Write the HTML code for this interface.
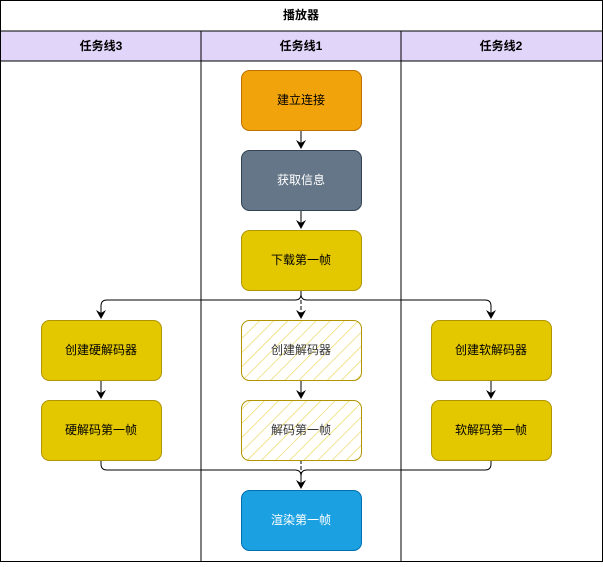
<!DOCTYPE html>
<html><head><meta charset="utf-8"><style>
body{margin:0;background:#fff;}
svg text{font-family:"Liberation Sans","Noto Sans CJK SC",sans-serif;font-size:12px;text-anchor:middle;dominant-baseline:central;}
</style></head><body>
<svg width="603" height="562" viewBox="0 0 603 562" xmlns="http://www.w3.org/2000/svg">
<defs>
<pattern id="h" patternUnits="userSpaceOnUse" width="10" height="10" patternTransform="rotate(45)">
<line x1="0" y1="0" x2="0" y2="10" stroke="#e8d24a" stroke-width="1.2"/>
</pattern>
<marker id="a" markerWidth="10" markerHeight="10" refX="8" refY="5" orient="auto" markerUnits="userSpaceOnUse">
<path d="M0,0 L9,5 L0,10 L3,5 Z" fill="#000"/>
</marker>
</defs>
<rect x="0.5" y="0.5" width="602" height="561" fill="#fff" stroke="#000"/>
<rect x="0.5" y="31" width="602" height="30" fill="#e1d5f9" stroke="#000"/>
<line x1="201" y1="31" x2="201" y2="562" stroke="#000"/>
<line x1="401" y1="31" x2="401" y2="562" stroke="#000"/>
<text x="301" y="15" font-weight="bold">播放器</text>
<text x="101" y="46" font-weight="bold">任务线3</text>
<text x="301" y="46" font-weight="bold">任务线1</text>
<text x="501" y="46" font-weight="bold">任务线2</text>

<g fill="none" stroke="#000" stroke-width="1">
<line x1="301" y1="130" x2="301" y2="148" marker-end="url(#a)"/>
<line x1="301" y1="210" x2="301" y2="228" marker-end="url(#a)"/>
<path d="M301,290 V294 Q301,300 295,300 H107 Q101,300 101,306 V318" marker-end="url(#a)"/>
<path d="M301,294 Q301,300 307,300 H485 Q491,300 491,306 V318" marker-end="url(#a)"/>
<line x1="301" y1="300" x2="301" y2="318" stroke-dasharray="4,2" marker-end="url(#a)"/>
<line x1="101" y1="380" x2="101" y2="398" marker-end="url(#a)"/>
<line x1="301" y1="380" x2="301" y2="398" marker-end="url(#a)"/>
<line x1="491" y1="380" x2="491" y2="398" marker-end="url(#a)"/>
<path d="M101,460 V464 Q101,470 107,470 H295 Q301,470 301,476 V488" marker-end="url(#a)"/>
<path d="M491,460 V464 Q491,470 485,470 H307 Q301,470 301,476"/>
<line x1="301" y1="460" x2="301" y2="476" stroke-dasharray="4,2"/>
</g>

<rect x="241.5" y="70.5" width="120" height="60" rx="8" fill="#f0a30a" stroke="#bd7000"/>
<text x="301" y="100">建立连接</text>
<rect x="241.5" y="150.5" width="120" height="60" rx="8" fill="#647687" stroke="#314354"/>
<text x="301" y="180" fill="#fff">获取信息</text>
<rect x="241.5" y="230.5" width="120" height="60" rx="8" fill="#e3c800" stroke="#b09500"/>
<text x="301" y="260">下载第一帧</text>

<rect x="41.5" y="320.5" width="120" height="60" rx="8" fill="#e3c800" stroke="#b09500"/>
<text x="101" y="350">创建硬解码器</text>
<rect x="41.5" y="400.5" width="120" height="60" rx="8" fill="#e3c800" stroke="#b09500"/>
<text x="101" y="430">硬解码第一帧</text>

<rect x="241.5" y="320.5" width="120" height="60" rx="8" fill="url(#h)" stroke="#b09500"/>
<text x="301" y="350" fill="#333">创建解码器</text>
<rect x="241.5" y="400.5" width="120" height="60" rx="8" fill="url(#h)" stroke="#b09500"/>
<text x="301" y="430" fill="#333">解码第一帧</text>

<rect x="431.5" y="320.5" width="120" height="60" rx="8" fill="#e3c800" stroke="#b09500"/>
<text x="491" y="350">创建软解码器</text>
<rect x="431.5" y="400.5" width="120" height="60" rx="8" fill="#e3c800" stroke="#b09500"/>
<text x="491" y="430">软解码第一帧</text>

<rect x="241.5" y="490.5" width="120" height="60" rx="8" fill="#1ba1e2" stroke="#006eaf"/>
<text x="301" y="520" fill="#fff">渲染第一帧</text>
</svg>
</body></html>
